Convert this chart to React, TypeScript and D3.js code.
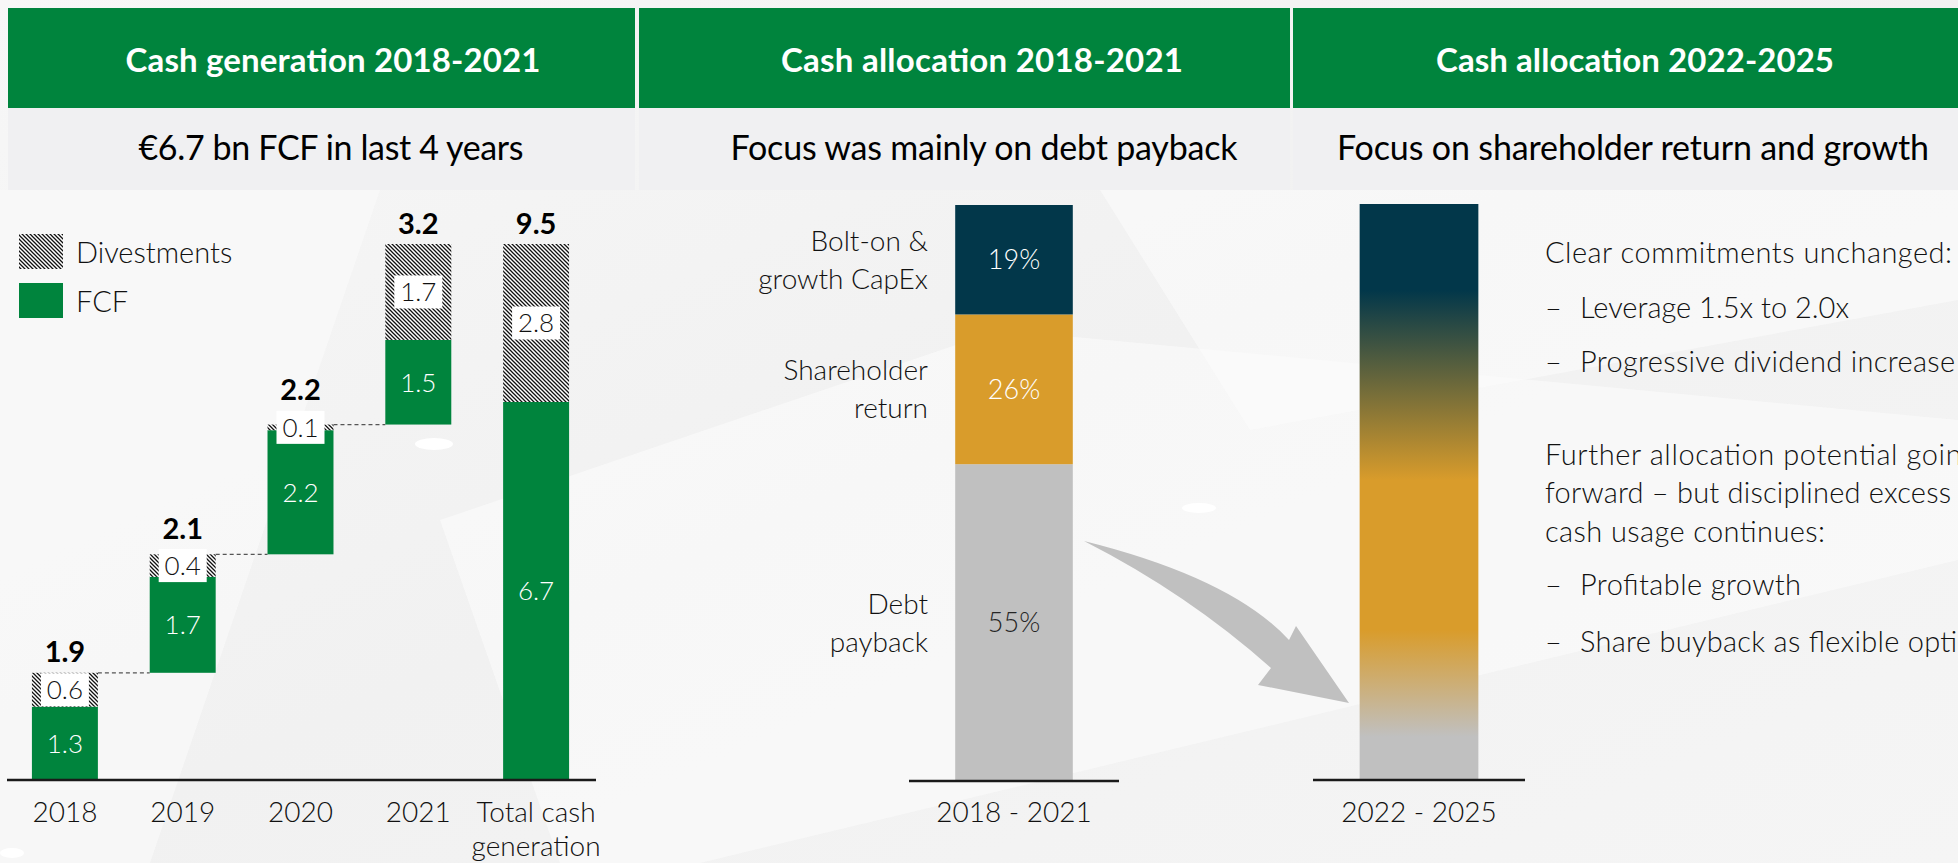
import React from 'react';
import * as d3 from 'd3';

const W = 1958;
const H = 863;

// ---------- data ----------
const panelTitles = ['Cash generation 2018-2021', 'Cash allocation 2018-2021', 'Cash allocation 2022-2025'];
const panelSubtitles = ['€6.7 bn FCF in last 4 years', 'Focus was mainly on debt payback', 'Focus on shareholder return and growth'];

const genCategories = ['2018', '2019', '2020', '2021', 'Total cash generation'];
const genAxisLines = [['2018'], ['2019'], ['2020'], ['2021'], ['Total cash', 'generation']];
const fcfValues = [1.3, 1.7, 2.2, 1.5, 6.7];
const divestValues = [0.6, 0.4, 0.1, 1.7, 2.8];
const totalLabels = ['1.9', '2.1', '2.2', '3.2', '9.5'];
const legendLabels = ['Divestments', 'FCF'];

const allocCategories = ['Debt payback', 'Shareholder return', 'Bolt-on & growth CapEx'];
const allocValues = [55, 26, 19];
const allocLabelLines = [['Debt', 'payback'], ['Shareholder', 'return'], ['Bolt-on &', 'growth CapEx']];
const allocPeriod = '2018 - 2021';
const futurePeriod = '2022 - 2025';

const futureLines = [
  { bullet: false, text: 'Clear commitments unchanged:' },
  { bullet: true, text: 'Leverage 1.5x to 2.0x' },
  { bullet: true, text: 'Progressive dividend increase' },
  { bullet: false, text: 'Further allocation potential going' },
  { bullet: false, text: 'forward \u2013 but disciplined excess' },
  { bullet: false, text: 'cash usage continues:' },
  { bullet: true, text: 'Profitable growth' },
  { bullet: true, text: 'Share buyback as flexible option' },
];

// ---------- style ----------
const GREEN = '#00843D';
const NAVY = '#02374A';
const ORANGE = '#D99C2B';
const GREY = '#C0C0C0';
const FONT = 'Lato, "Open Sans", sans-serif';
const allocColors = [GREY, ORANGE, NAVY];
const allocTextColors = ['#262626', '#ffffff', '#ffffff'];

const panelX = [[8, 635], [639, 1290], [1293, 1958]];
const titleCx = [333, 982, 1635];
const titleW = [415, 402, 398];
const subCx = [331, 984, 1633];
const subW = [385, 507, 592];
const futureBaselines = [263, 318, 372, 465, 503, 542, 595, 652];
const futureWidths = [407, 269, 375, 432, 406, 280, 221, 410];

export default function App() {
  // waterfall scales
  const x = d3.scaleBand<string>().domain(genCategories).range([6, 595]).paddingInner(0.44).paddingOuter(0.22);
  const y = d3.scaleLinear().domain([0, 9.5]).range([780, 244]);
  const bw = x.bandwidth();

  let cum = 0;
  const rows = genCategories.map((c, i) => {
    const isTotal = i === genCategories.length - 1;
    const base = isTotal ? 0 : cum;
    const fTop = base + fcfValues[i];
    const dTop = fTop + divestValues[i];
    if (!isTotal) cum = dTop;
    return { c, i, base, fTop, dTop, isTotal };
  });

  // allocation 2018-2021
  const y2 = d3.scaleLinear().domain([0, 100]).range([781, 205]);
  const x2 = d3.scaleBand<string>().domain([allocPeriod]).range([909, 1119]).paddingInner(0.44).paddingOuter(0.22);
  let acc = 0;
  const segs = allocValues.map((v, i) => {
    const s = { i, v, y0: acc, y1: acc + v, name: allocCategories[i] };
    acc += v;
    return s;
  });

  // future bar
  const x3 = d3.scaleBand<string>().domain([futurePeriod]).range([1313, 1525]).paddingInner(0.44).paddingOuter(0.22);
  const y3 = d3.scaleLinear().domain([0, 100]).range([780, 204]);

  const boxW = 48;
  const boxH = 33;

  const arrowPath = 'M1084,541 Q1232,578 1289,640 L1296,626 L1349,703 L1258,685 L1271,668 Q1188,594 1084,541 Z';

  return (
    <svg width={W} height={H} style={{ position: 'absolute', left: 0, top: 0 }} fontFamily={FONT}>
      <defs>
        <pattern id="hatch" patternUnits="userSpaceOnUse" width="4" height="4">
          <rect width="4" height="4" fill="#fff" />
          <path d="M-1,-1 L5,5 M-1,3 L1,5 M3,-1 L5,1" stroke="#111" strokeWidth="1.3" />
        </pattern>
        <linearGradient id="future" x1="0" y1="0" x2="0" y2="1">
          <stop offset="0" stopColor={NAVY} />
          <stop offset="0.15" stopColor={NAVY} />
          <stop offset="0.48" stopColor={ORANGE} />
          <stop offset="0.74" stopColor={ORANGE} />
          <stop offset="0.925" stopColor={GREY} />
          <stop offset="1" stopColor={GREY} />
        </linearGradient>
        <linearGradient id="bg" x1="0" y1="0" x2="1" y2="1">
          <stop offset="0" stopColor="#f7f7f7" />
          <stop offset="0.5" stopColor="#f1f1f1" />
          <stop offset="1" stopColor="#f5f5f5" />
        </linearGradient>
      </defs>

      {/* background */}
      <rect x={0} y={0} width={W} height={H} fill="url(#bg)" />
      <polygon points="0,190 380,190 150,863 0,863" fill="#fafafa" opacity={0.7} />
      <polygon points="440,520 1000,330 1958,420 1958,560 700,863 560,863" fill="#fbfbfb" opacity={0.6} />
      <polygon points="1100,190 1958,190 1958,300 1250,430" fill="#fbfbfb" opacity={0.6} />
      <ellipse cx={434} cy={444} rx={19} ry={6} fill="#fff" />
      <ellipse cx={1199} cy={508} rx={17} ry={5} fill="#fff" />
      <ellipse cx={12} cy={853} rx={12} ry={5} fill="#fff" />

      {/* headers */}
      {panelX.map(([a, b], i) => (
        <g key={'h' + i}>
          <rect x={a} y={8} width={b - a} height={100} fill={GREEN} />
          <rect x={a} y={108} width={b - a} height={82} fill="#f0f0f2" />
          <text x={titleCx[i]} y={72} textAnchor="middle" fill="#fff" fontWeight={700} fontSize={33} textLength={titleW[i]}>
            {panelTitles[i]}
          </text>
          <text x={subCx[i]} y={160} textAnchor="middle" fill="#000" fontWeight={400} fontSize={34} textLength={subW[i]}>
            {panelSubtitles[i]}
          </text>
        </g>
      ))}

      {/* ---------- waterfall ---------- */}
      {/* legend */}
      <rect x={19} y={234} width={44} height={35} fill="url(#hatch)" />
      <rect x={19} y={283} width={44} height={35} fill={GREEN} />
      <text x={76} y={263} fontSize={29} fontWeight={300} fill="#111">{legendLabels[0]}</text>
      <text x={76} y={312} fontSize={29} fontWeight={300} fill="#111">{legendLabels[1]}</text>

      {/* connectors */}
      {rows.slice(0, 3).map((r) => (
        <line
          key={'c' + r.i}
          x1={(x(r.c) as number) + bw}
          x2={x(genCategories[r.i + 1]) as number}
          y1={y(r.dTop)}
          y2={y(r.dTop)}
          stroke="#555"
          strokeWidth={1.2}
          strokeDasharray="4,3"
        />
      ))}

      {rows.map((r) => {
        const bx = x(r.c) as number;
        const cx = bx + bw / 2;
        const dMid = y((r.fTop + r.dTop) / 2);
        const boxTop = dMid - boxH / 2;
        const labelC = Math.min(y(r.dTop), boxTop) - 21;
        return (
          <g key={'b' + r.i}>
            <rect x={bx} y={y(r.fTop)} width={bw} height={y(r.base) - y(r.fTop)} fill={GREEN} />
            <rect x={bx} y={y(r.dTop)} width={bw} height={y(r.fTop) - y(r.dTop)} fill="url(#hatch)" />
            <rect x={cx - boxW / 2} y={boxTop} width={boxW} height={boxH} fill="#fff" />
            <text x={cx} y={dMid + 9.5} textAnchor="middle" fontSize={26} fontWeight={300} fill="#111">
              {divestValues[r.i].toFixed(1)}
            </text>
            <text x={cx} y={y((r.base + r.fTop) / 2) + 9.5} textAnchor="middle" fontSize={26} fontWeight={300} fill="#fff">
              {fcfValues[r.i].toFixed(1)}
            </text>
            <text x={cx} y={labelC + 10.5} textAnchor="middle" fontSize={29} fontWeight={700} fill="#000">
              {totalLabels[r.i]}
            </text>
            {genAxisLines[r.i].map((ln, k) => (
              <text key={k} x={cx} y={822 + k * 34} textAnchor="middle" fontSize={28} fontWeight={300} fill="#111">
                {ln}
              </text>
            ))}
          </g>
        );
      })}
      <line x1={7} x2={596} y1={780} y2={780} stroke="#1a1a1a" strokeWidth={2.5} />

      {/* ---------- allocation 2018-2021 ---------- */}
      {segs.map((s) => {
        const bx = x2(allocPeriod) as number;
        const c = y2((s.y0 + s.y1) / 2);
        return (
          <g key={'s' + s.i}>
            <rect x={bx} y={y2(s.y1)} width={x2.bandwidth()} height={y2(s.y0) - y2(s.y1)} fill={allocColors[s.i]} />
            <text x={bx + x2.bandwidth() / 2} y={c + 9.5} textAnchor="middle" fontSize={27} fontWeight={300} fill={allocTextColors[s.i]}>
              {s.v}%
            </text>
            {allocLabelLines[s.i].map((ln, k) => (
              <text key={k} x={928} y={c - 9 + k * 38} textAnchor="end" fontSize={28} fontWeight={300} fill="#111">
                {ln}
              </text>
            ))}
          </g>
        );
      })}
      <line x1={909} x2={1119} y1={781} y2={781} stroke="#1a1a1a" strokeWidth={2.5} />
      <text x={(x2(allocPeriod) as number) + x2.bandwidth() / 2} y={822} textAnchor="middle" fontSize={28} fontWeight={300} fill="#111">
        {allocPeriod}
      </text>

      {/* arrow */}
      <path d={arrowPath} fill={GREY} />

      {/* ---------- allocation 2022-2025 ---------- */}
      <rect x={x3(futurePeriod) as number} y={y3(100)} width={x3.bandwidth()} height={y3(0) - y3(100)} fill="url(#future)" />
      <line x1={1313} x2={1525} y1={780} y2={780} stroke="#1a1a1a" strokeWidth={2.5} />
      <text x={(x3(futurePeriod) as number) + x3.bandwidth() / 2} y={822} textAnchor="middle" fontSize={28} fontWeight={300} fill="#111">
        {futurePeriod}
      </text>

      {futureLines.map((l, i) => (
        <g key={'f' + i}>
          {l.bullet && (
            <text x={1545} y={futureBaselines[i]} fontSize={29} fontWeight={300} fill="#111">{'\u2013'}</text>
          )}
          <text x={l.bullet ? 1580 : 1545} y={futureBaselines[i]} fontSize={29} fontWeight={300} fill="#111" textLength={futureWidths[i]}>
            {l.text}
          </text>
        </g>
      ))}
    </svg>
  );
}
